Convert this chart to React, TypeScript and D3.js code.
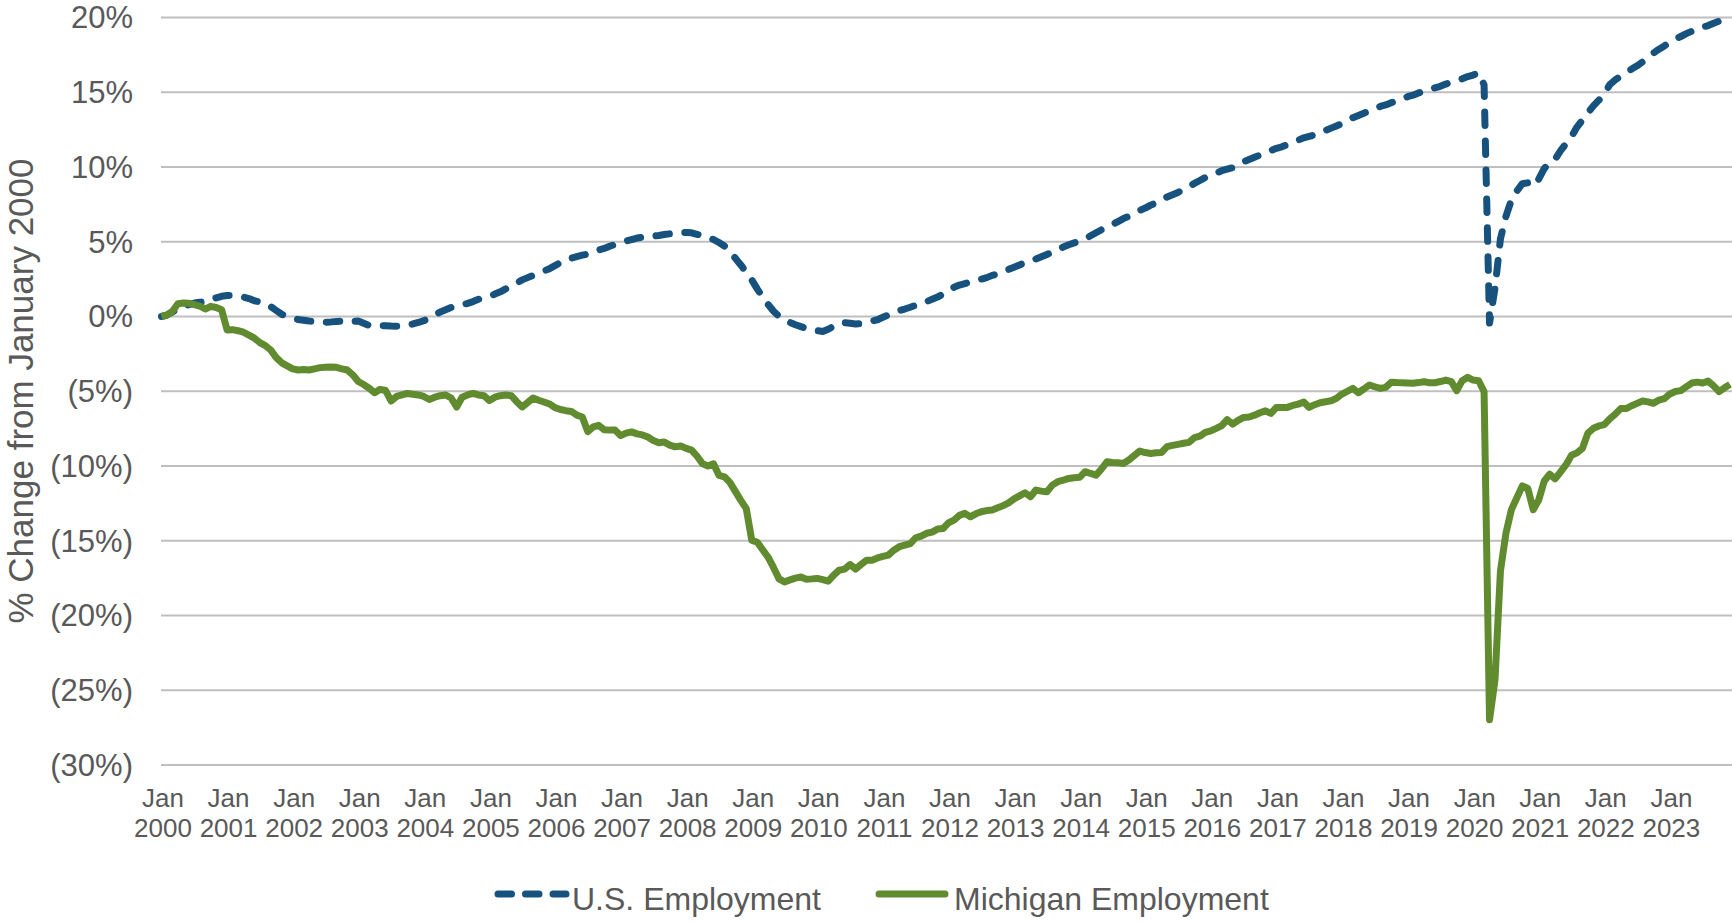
import React from "react";
import { scaleLinear, line, curveLinear } from "d3";

// % change from January 2000, monthly, Jan 2000 .. Dec 2023 (12 values per row)
const usEmployment = [
  0.0, 0.1, 0.3, 0.5, 0.7, 0.8, 0.9, 0.95, 1.0, 1.15, 1.25, 1.35,
  1.4, 1.42, 1.38, 1.3, 1.2, 1.05, 0.98, 0.85, 0.66, 0.4, 0.15, 0.0,
  -0.12, -0.2, -0.25, -0.3, -0.33, -0.35, -0.38, -0.36, -0.33, -0.3, -0.28, -0.33,
  -0.3, -0.45, -0.6, -0.62, -0.6, -0.62, -0.64, -0.65, -0.63, -0.58, -0.5, -0.4,
  -0.28, -0.12, 0.1, 0.3, 0.45, 0.6, 0.68, 0.78, 0.88, 1.0, 1.15, 1.25,
  1.35, 1.5, 1.65, 1.85, 2.05, 2.25, 2.45, 2.6, 2.75, 2.9, 3.05, 3.2,
  3.4, 3.6, 3.75, 3.9, 4.0, 4.1, 4.18, 4.3, 4.45, 4.55, 4.7, 4.82,
  4.95, 5.05, 5.15, 5.25, 5.3, 5.35, 5.38, 5.42, 5.48, 5.53, 5.58, 5.6,
  5.62, 5.6, 5.5, 5.4, 5.28, 5.15, 4.95, 4.72, 4.35, 3.9, 3.45, 2.95,
  2.45, 1.85, 1.3, 0.8, 0.35, 0.0, -0.2, -0.4, -0.55, -0.68, -0.8, -0.88,
  -0.95, -1.0, -0.85, -0.65, -0.45, -0.42, -0.45, -0.5, -0.48, -0.4, -0.3, -0.22,
  -0.05, 0.1, 0.25, 0.4, 0.5, 0.62, 0.75, 0.85, 1.0, 1.15, 1.3, 1.5,
  1.75, 1.95, 2.1, 2.2, 2.3, 2.4, 2.5, 2.6, 2.75, 2.85, 3.0, 3.15,
  3.3, 3.45, 3.6, 3.72, 3.85, 4.0, 4.15, 4.3, 4.45, 4.65, 4.8, 4.92,
  5.05, 5.2, 5.4, 5.6, 5.8, 6.0, 6.15, 6.35, 6.55, 6.7, 6.9, 7.1,
  7.25, 7.45, 7.6, 7.8, 8.0, 8.15, 8.3, 8.5, 8.7, 8.9, 9.1, 9.3,
  9.45, 9.6, 9.75, 9.85, 9.95, 10.1, 10.35, 10.5, 10.65, 10.8, 10.95, 11.1,
  11.25, 11.35, 11.5, 11.65, 11.8, 11.95, 12.05, 12.15, 12.3, 12.45, 12.6, 12.75,
  12.9, 13.1, 13.3, 13.45, 13.6, 13.75, 13.9, 14.05, 14.15, 14.3, 14.4, 14.55,
  14.7, 14.8, 14.95, 15.05, 15.15, 15.3, 15.4, 15.55, 15.65, 15.8, 15.9, 16.05,
  16.15, 16.3, 15.5, -0.44, 1.9, 5.2, 6.7, 7.8, 8.4, 8.88, 8.94, 8.72,
  9.19, 9.89, 10.3, 10.52, 11.09, 11.56, 12.04, 12.67, 13.14, 13.62, 14.09, 14.47,
  14.88, 15.51, 15.83, 16.08, 16.3, 16.55, 16.77, 17.03, 17.31, 17.63, 17.88, 18.1,
  18.35, 18.55, 18.73, 18.92, 19.08, 19.24, 19.36, 19.46, 19.62, 19.75, 19.9, 20.03,
];

const michiganEmployment = [
  0.0, 0.1, 0.35, 0.85, 0.9, 0.88, 0.8, 0.7, 0.5, 0.68, 0.6, 0.45,
  -0.9, -0.88, -0.95, -1.05, -1.25, -1.45, -1.75, -1.95, -2.25, -2.75, -3.1, -3.3,
  -3.5, -3.58, -3.55, -3.58, -3.5, -3.42, -3.4, -3.38, -3.4, -3.5, -3.58, -3.9,
  -4.35, -4.55, -4.8, -5.1, -4.87, -4.95, -5.65, -5.35, -5.25, -5.15, -5.2, -5.25,
  -5.35, -5.55, -5.4, -5.3, -5.25, -5.45, -6.05, -5.4, -5.25, -5.15, -5.25, -5.3,
  -5.62, -5.4, -5.3, -5.25, -5.3, -5.7, -6.05, -5.75, -5.45, -5.6, -5.72, -5.85,
  -6.1, -6.22, -6.3, -6.35, -6.6, -6.72, -7.7, -7.38, -7.28, -7.58, -7.6, -7.6,
  -7.97, -7.8, -7.72, -7.85, -7.92, -8.06, -8.3, -8.45, -8.4, -8.6, -8.72, -8.66,
  -8.82, -8.94, -9.35, -9.85, -10.0, -9.85, -10.62, -10.72, -11.1, -11.7, -12.3, -12.85,
  -14.96, -15.1, -15.6, -16.1, -16.8, -17.55, -17.75, -17.62, -17.5, -17.42, -17.57, -17.55,
  -17.52, -17.6, -17.7, -17.3, -16.97, -16.9, -16.59, -16.9, -16.59, -16.3, -16.3, -16.15,
  -16.05, -15.96, -15.63, -15.4, -15.3, -15.2, -14.8, -14.69, -14.5, -14.42, -14.22, -14.18,
  -13.8, -13.62, -13.3, -13.17, -13.4, -13.2, -13.06, -12.98, -12.95, -12.8, -12.65, -12.46,
  -12.2, -12.0, -11.79, -12.06, -11.61, -11.68, -11.73, -11.28, -11.05, -10.95, -10.83, -10.78,
  -10.76, -10.38, -10.5, -10.61, -10.2, -9.72, -9.76, -9.78, -9.83, -9.6, -9.3, -9.0,
  -9.1, -9.16, -9.12, -9.09, -8.7, -8.62, -8.55, -8.48, -8.42, -8.1, -8.0, -7.75,
  -7.65, -7.48, -7.3, -6.9, -7.2, -6.95, -6.75, -6.72, -6.6, -6.44, -6.31, -6.48,
  -6.08, -6.08, -6.08, -5.95, -5.86, -5.72, -6.08, -5.9, -5.77, -5.7, -5.64, -5.47,
  -5.19, -5.0, -4.81, -5.1, -4.85, -4.58, -4.7, -4.81, -4.74, -4.4, -4.42, -4.43,
  -4.45, -4.47, -4.42, -4.36, -4.43, -4.43, -4.35, -4.25, -4.36, -4.96, -4.29, -4.07,
  -4.25, -4.3, -5.02, -26.97, -24.3, -17.0, -14.5, -12.92, -12.13, -11.33, -11.5, -12.92,
  -12.28, -11.02, -10.55, -10.86, -10.39, -9.91, -9.28, -9.12, -8.81, -7.8, -7.48, -7.32,
  -7.23, -6.85, -6.53, -6.16, -6.16, -5.97, -5.81, -5.65, -5.71, -5.81, -5.59, -5.49,
  -5.18, -5.02, -4.96, -4.7, -4.45, -4.39, -4.45, -4.32, -4.64, -5.02, -4.77, -4.54,
];

const years = [
  2000, 2001, 2002, 2003, 2004, 2005, 2006, 2007, 2008, 2009, 2010, 2011,
  2012, 2013, 2014, 2015, 2016, 2017, 2018, 2019, 2020, 2021, 2022, 2023,
];
const yTicks = [-30, -25, -20, -15, -10, -5, 0, 5, 10, 15, 20];

const seriesNames = ["U.S. Employment", "Michigan Employment"];
const BLUE = "#17527E";
const GREEN = "#618B2F";
const TEXT = "#595959";
const FONT = "'Liberation Sans', Arial, sans-serif";

const W = 1732;
const H = 923;

const App = () => {
  const xScale = scaleLinear().domain([0, usEmployment.length - 1]).range([161.5, 1730]);
  const yScale = scaleLinear().domain([-30, 20]).range([765, 17.5]);

  // straight segments, like the spreadsheet line
  const myLine = line<number>()
    .x((d, i) => xScale(i))
    .y((d) => yScale(d))
    .curve(curveLinear);

  const fmt = (v: number) => (v < 0 ? `(${-v}%)` : `${v}%`);

  return (
    <svg
      width={W}
      height={H}
      style={{ position: "fixed", left: 0, top: 0, background: "#fff" }}
      fontFamily={FONT}
    >
      {/* gridlines */}
      {yTicks.map((t) => (
        <line
          key={"g" + t}
          x1={161}
          x2={W}
          y1={yScale(t)}
          y2={yScale(t)}
          stroke="#BFBFBF"
          strokeWidth={1.8}
        />
      ))}

      {/* y tick labels */}
      {yTicks.map((t) => (
        <text
          key={"t" + t}
          x={133}
          y={yScale(t)}
          dy="0.35em"
          textAnchor="end"
          fontSize={31}
          fill={TEXT}
        >
          {fmt(t)}
        </text>
      ))}

      {/* y axis title */}
      <text
        transform="translate(33, 391) rotate(-90)"
        textAnchor="middle"
        fontSize={35}
        fill={TEXT}
      >
        % Change from January 2000
      </text>

      {/* x labels */}
      {years.map((yr, i) => (
        <text key={"x" + yr} textAnchor="middle" fontSize={26} fill={TEXT}>
          <tspan x={xScale(i * 12) + 1.5} y={806.5}>Jan</tspan>
          <tspan x={xScale(i * 12) + 1.5} y={836.5}>{yr}</tspan>
        </text>
      ))}

      {/* series: U.S. first, Michigan drawn on top */}
      <path
        d={myLine(usEmployment) || ""}
        fill="none"
        stroke={BLUE}
        strokeWidth={7}
        strokeDasharray="13.5 15.5"
        strokeLinecap="round"
        strokeLinejoin="round"
      />
      <path
        d={myLine(michiganEmployment) || ""}
        fill="none"
        stroke={GREEN}
        strokeWidth={7}
        strokeLinejoin="round"
      />

      {/* legend */}
      <line
        x1={498}
        x2={566}
        y1={894}
        y2={894}
        stroke={BLUE}
        strokeWidth={7}
        strokeDasharray="13.5 14"
        strokeLinecap="round"
      />
      <text x={572} y={910} fontSize={32} fill={TEXT}>
        {seriesNames[0]}
      </text>
      <line
        x1={879}
        x2={945}
        y1={894}
        y2={894}
        stroke={GREEN}
        strokeWidth={7}
        strokeLinecap="round"
      />
      <text x={954} y={910} fontSize={32} fill={TEXT}>
        {seriesNames[1]}
      </text>
    </svg>
  );
};

export default App;
